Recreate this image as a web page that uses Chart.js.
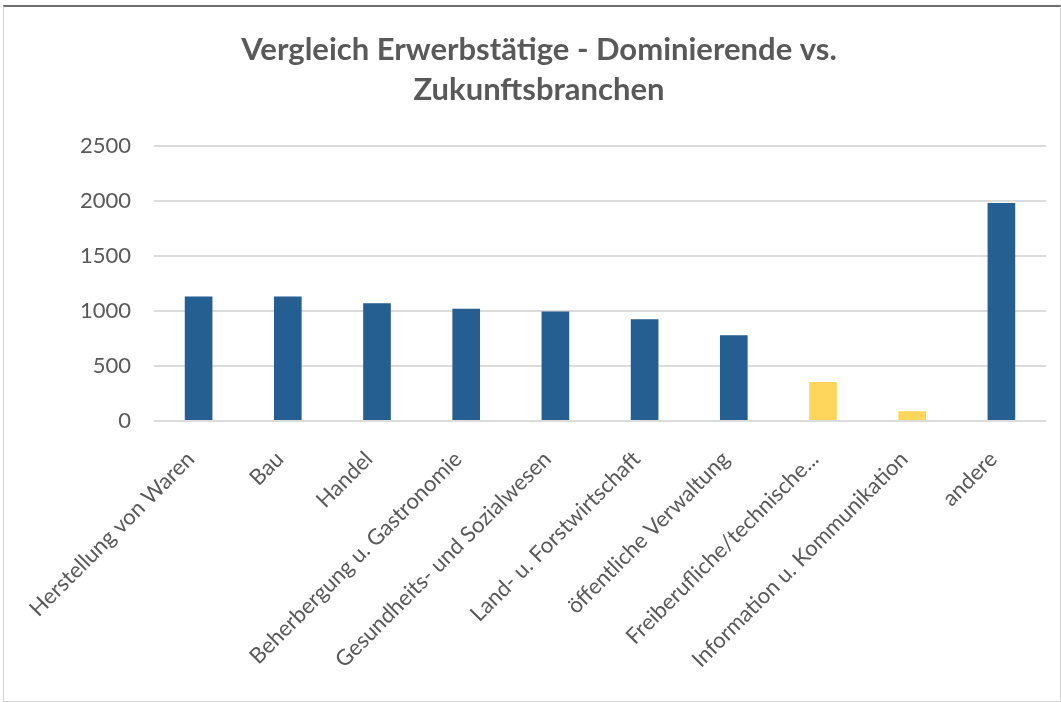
<!DOCTYPE html>
<html>
<head>
<meta charset="utf-8">
<script src="https://cdn.jsdelivr.net/npm/chart.js@4"></script>
<style>
  body { margin: 0; background: #fff; }
  #box {
    position: absolute; left: 3px; top: 5px; width: 1056px; height: 694px;
    border: 1px solid #d4d4d4; border-top: 2px solid #6e6e6e; background: #fff;
  }
</style>
</head>
<body>
<div id="box"><canvas id="chart" width="1056" height="694"></canvas></div>
<script>
// Branchen (x-Achse)
const categories = [
  'Herstellung von Waren', 'Bau', 'Handel', 'Beherbergung u. Gastronomie',
  'Gesundheits- und Sozialwesen', 'Land- u. Forstwirtschaft', 'öffentliche Verwaltung',
  'Freiberufliche/technische...', 'Information u. Kommunikation', 'andere'
];
// Erwerbstätige
const values = [1130, 1130, 1070, 1020, 995, 925, 780, 355, 90, 1980];
// dominierend (d) oder Zukunftsbranche (z)
const groups = ['d', 'd', 'd', 'd', 'd', 'd', 'd', 'z', 'z', 'd'];
const yTicks = [0, 500, 1000, 1500, 2000, 2500];

const colors = { d: '#255e91', z: '#ffd65c' };
const grey = '#595959';

new Chart(document.getElementById('chart'), {
  type: 'bar',
  data: {
    labels: categories,
    datasets: [{
      data: values,
      backgroundColor: groups.map(g => colors[g]),
      barPercentage: 0.31,
      categoryPercentage: 1
    }]
  },
  options: {
    responsive: false,
    animation: false,
    layout: { padding: { left: 28, right: 14, top: 0, bottom: 11 } },
    plugins: {
      legend: { display: false },
      tooltip: { enabled: false },
      title: {
        display: true,
        text: ['Vergleich Erwerbstätige - Dominierende vs.', 'Zukunftsbranchen'],
        color: grey,
        font: { family: 'Lato', size: 31, weight: 'bold', lineHeight: 1.3 },
        padding: { top: 23, bottom: 35 }
      }
    },
    scales: {
      x: {
        grid: { display: false },
        border: { display: false },
        ticks: {
          color: grey, maxRotation: 45, minRotation: 45, padding: 17, labelOffset: -8,
          font: { family: 'Lato', size: 22 }
        }
      },
      y: {
        min: 0, max: 2500,
        afterBuildTicks: axis => { axis.ticks = yTicks.map(v => ({ value: v })); },
        afterFit: axis => { axis.width = 122; },
        grid: { color: '#dcdcdc', lineWidth: 2, drawTicks: false },
        border: { display: false },
        ticks: {
          color: grey, padding: 23, font: { family: 'Lato', size: 22 },
          callback: v => String(v)
        }
      }
    }
  }
});
</script>
</body>
</html>
